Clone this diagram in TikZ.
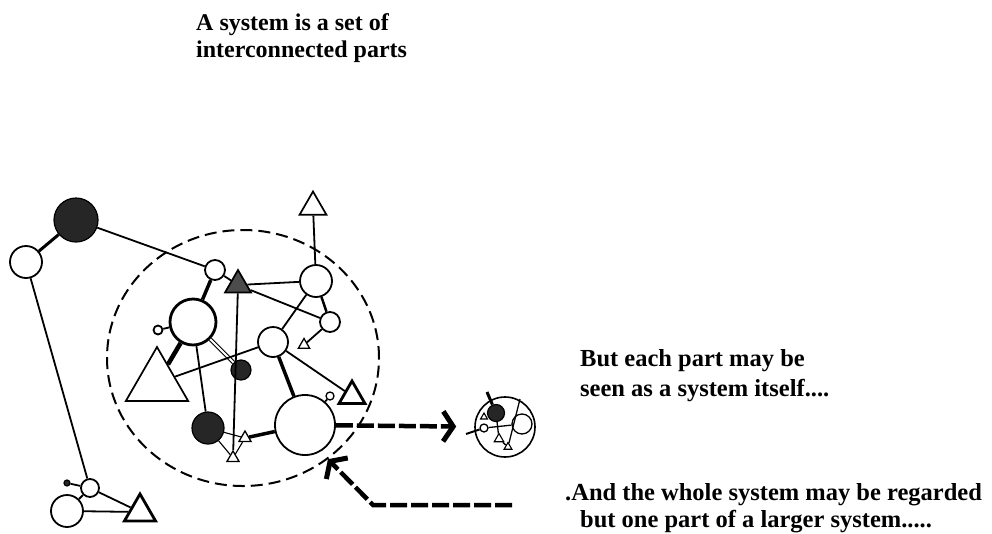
\documentclass[tikz,border=0pt]{standalone}
\usepackage{fontspec}
\setmainfont{Liberation Serif}
\usetikzlibrary{shapes.geometric,arrows.meta}

\begin{document}
\begin{tikzpicture}[x=1pt, y=-1pt,
    part/.style={circle,draw,line width=1.8pt,fill=white,inner sep=0pt},
    dark/.style={circle,draw,line width=1.2pt,fill=black!85,inner sep=0pt},
    tri/.style={regular polygon,regular polygon sides=3,draw,line width=1.7pt,
                fill=white,inner sep=0pt},
    link/.style={line width=1.8pt},
    strong/.style={line width=3.5pt},
    label/.style={font=\bfseries\fontsize{24.5}{27}\selectfont,align=left,inner sep=0pt},
    bigarrow/.style={line width=4.5pt,dash pattern=on 17pt off 4pt,
                     -{Straight Barb[length=10pt,width=30pt,line width=5pt]}}]
  \useasboundingbox (0,0) rectangle (992,533);

  % the whole system
  \node[ellipse,draw,line width=2pt,dash pattern=on 12pt off 6pt,
        minimum width=272pt,minimum height=256pt,inner sep=0pt] (sys) at (243,358) {};

  \node[dark] (dkA)  at ( 76,220) [minimum size=44pt] {};
  \node[part] (cL)   at ( 26,262) [minimum size=32pt] {};
  \node[part] (cS)   at (215,270) [minimum size=20pt] {};
  \node[tri,fill=black!70] (tH) at (238,285) [minimum size=30pt] {};
  \node[part,line width=2.8pt] (cB) at (193,322) [minimum size=46pt] {};
  \node[part] (cT)   at (158,330) [minimum size=9pt] {};
  \node[part] (cR)   at (316,281) [minimum size=32pt] {};
  \node[tri]  (tTop) at (313,207) [minimum size=31pt] {};
  \node[part] (cR2)  at (330,322) [minimum size=20pt] {};
  \node[tri,line width=1.3pt] (tR2) at (304,345) [minimum size=13pt] {};
  \node[part] (cM)   at (273,342) [minimum size=30pt] {};
  \node[dark] (dkM)  at (241,370) [minimum size=20pt] {};
  \node[tri]  (tBig) at (157,383) [minimum size=72pt] {};
  \node[tri,line width=2.8pt] (tRt) at (352,396) [minimum size=30pt] {};
  \node[part] (cBig) at (305,425) [minimum size=60pt] {};
  \node[part,line width=1.3pt] (cDot) at (330,396) [minimum size=8pt] {};
  \node[dark] (dkL)  at (208,428) [minimum size=32pt] {};
  \node[tri,line width=1.3pt] (tS1) at (245,438) [minimum size=14pt] {};
  \node[tri,line width=1.3pt] (tS2) at (233,458) [minimum size=14pt] {};

  % small group at the lower left
  \node[part] (cQ)   at ( 90,488) [minimum size=18pt] {};
  \node[dark] (dot)  at ( 67,483) [minimum size=6pt] {};
  \node[part] (cP)   at ( 67,511) [minimum size=32pt] {};
  \node[tri,line width=2.8pt] (tQ) at (140,512) [minimum size=36pt] {};

  \draw[strong,line width=3pt] (dkA) -- (cL);
  \draw[link] (dkA) -- (cS);
  \draw[link] (cL) -- (cQ);
  \draw[strong] (cS) -- (cB);
  \draw[link] (cS) -- (tH);
  \draw[link] (tH) -- (cR);
  \draw[link] (tH) -- (cR2);
  \draw[link] (tH) -- (tS2);
  \draw[link] (cR) -- (tTop);
  \draw[link,line width=2.5pt] (cR) -- (cR2);
  \draw[link] (cR2) -- (tR2);
  \draw[link] (cM) -- (cR);
  \draw[link,double,double distance=2pt,line width=1.1pt] (cB) -- (dkM);
  \draw[strong,line width=4.5pt] (cB) -- (tBig);
  \draw[link] (cB) -- (dkL);
  \draw[link] (cB) -- (cT);
  \draw[link] (tBig) -- (cM);
  \draw[strong] (cM) -- (cBig);
  \draw[link] (cM) -- (tRt);
  \draw[strong] (cBig) -- (tS1);
  \draw[link] (cBig) -- (cDot);
  \draw[link,line width=1.1pt] (dkL) -- (tS1) (dkL) -- (tS2) (tS1) -- (tS2);
  \draw[link] (cQ) -- (tQ) (cP) -- (tQ) (cQ) -- (cP) (dot) -- (cQ);

  % one part seen as a system
  \node[circle,draw,line width=1.6pt,minimum size=60pt,inner sep=0pt] (sub) at (505,427) {};
  \node[dark] (sdk) at (496,413) [minimum size=17pt] {};
  \node[part,line width=1.3pt] (sc)  at (522,424) [minimum size=20pt] {};
  \node[part,line width=1.3pt] (sc2) at (484,428) [minimum size=8pt] {};
  \node[tri,line width=1.1pt] (st1) at (484,417) [minimum size=8pt] {};
  \node[tri,line width=1.1pt] (st2) at (499,439) [minimum size=11pt] {};
  \node[tri,line width=1.1pt] (st3) at (508,447) [minimum size=9pt] {};
  \coordinate (sin1) at (487,392);
  \coordinate (sin2) at (466,434);
  \coordinate (sin3) at (520,399);
  \draw[line width=3pt] (sin1) -- (sdk);
  \draw[line width=2pt] (sin2) -- (sc2);
  \draw[line width=1.3pt] (sc2) -- (sc) (sdk) -- (st2) (sin3) -- (st3) (st2) -- (st3);

  % arrows
  \draw[bigarrow,shorten >=18pt] (cBig) -- (sub);
  \coordinate (outer) at (512,505);
  \coordinate (bend)  at (373,505);
  \draw[bigarrow] (outer) -- (bend) -- (sys.-50);

  \node[label,anchor=north west,font=\bfseries\fontsize{24}{27}\selectfont] (t1) at (196,13)
    {A system is a set of\\interconnected parts};
  \node[label,anchor=north west,font=\bfseries\fontsize{24.5}{30}\selectfont] (t2) at (580,349)
    {But each part may be\\seen as a system itself....};
  \node[label,anchor=north west] (t3) at (565,483)
    {.And the whole system may be regarded\\\hspace*{15pt}but one part of a larger system.....};
\end{tikzpicture}
\end{document}
